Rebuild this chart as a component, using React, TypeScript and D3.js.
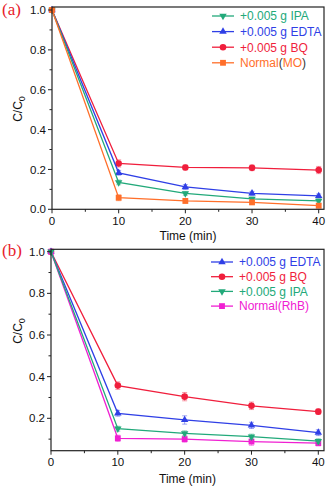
import React from "react";
import * as d3 from "d3";

const times = [0, 10, 20, 30, 40];

// Panel (a) – MO
const aIPA = [1.0, 0.135, 0.08, 0.052, 0.042];
const aEDTA = [1.0, 0.183, 0.112, 0.08, 0.067];
const aBQ = [1.0, 0.23, 0.21, 0.208, 0.197];
const aMO = [1.0, 0.058, 0.042, 0.035, 0.018];
const aIPAErr = [0, 0.012, 0.01, 0.01, 0.01];
const aEDTAErr = [0, 0.012, 0.012, 0.01, 0.01];
const aBQErr = [0, 0.018, 0.012, 0.014, 0.018];
const aMOErr = [0, 0.015, 0.012, 0.012, 0.01];

// Panel (b) – RhB
const bEDTA = [1.0, 0.224, 0.192, 0.166, 0.131];
const bBQ = [1.0, 0.357, 0.304, 0.26, 0.232];
const bIPA = [1.0, 0.15, 0.128, 0.112, 0.09];
const bRhB = [1.0, 0.104, 0.1, 0.088, 0.081];
const bEDTAErr = [0, 0.014, 0.02, 0.015, 0.014];
const bBQErr = [0, 0.018, 0.02, 0.018, 0.012];
const bIPAErr = [0, 0.012, 0.012, 0.012, 0.012];
const bRhBErr = [0, 0.015, 0.015, 0.018, 0.014];

const xMajor = [0, 10, 20, 30, 40];
const xMinor = [5, 15, 25, 35];
const aYMajor = [0, 0.2, 0.4, 0.6, 0.8, 1.0];
const bYMajor = [0.2, 0.4, 0.6, 0.8, 1.0];
const yMinor = [0.1, 0.3, 0.5, 0.7, 0.9];

const GREEN = "#22a97a";
const BLUE = "#2f3fe6";
const RED = "#f01e3c";
const ORANGE = "#ff6f2a";
const MAGENTA = "#f020d2";

type Series = {
  key: string;
  label: React.ReactNode;
  values: number[];
  err: number[];
  color: string;
  shape: "down" | "up" | "circle" | "square";
};

const seriesA: Series[] = [
  { key: "ipa", label: "+0.005 g IPA", values: aIPA, err: aIPAErr, color: GREEN, shape: "down" },
  { key: "edta", label: "+0.005 g EDTA", values: aEDTA, err: aEDTAErr, color: BLUE, shape: "up" },
  { key: "bq", label: "+0.005 g BQ", values: aBQ, err: aBQErr, color: RED, shape: "circle" },
  {
    key: "mo",
    label: (
      <>
        <tspan fill={ORANGE}>Normal</tspan>
        <tspan fill="#333">(</tspan>
        <tspan fill={ORANGE}>MO</tspan>
        <tspan fill="#333">)</tspan>
      </>
    ),
    values: aMO,
    err: aMOErr,
    color: ORANGE,
    shape: "square",
  },
];

const seriesB: Series[] = [
  { key: "edta", label: "+0.005 g EDTA", values: bEDTA, err: bEDTAErr, color: BLUE, shape: "up" },
  { key: "bq", label: "+0.005 g BQ", values: bBQ, err: bBQErr, color: RED, shape: "circle" },
  { key: "ipa", label: "+0.005 g IPA", values: bIPA, err: bIPAErr, color: GREEN, shape: "down" },
  { key: "rhb", label: "Normal(RhB)", values: bRhB, err: bRhBErr, color: MAGENTA, shape: "square" },
];

const FONT = "'Liberation Sans', Arial, sans-serif";

function Marker({ x, y, shape, color }: { x: number; y: number; shape: Series["shape"]; color: string }) {
  let path = "";
  let rot = 0;
  if (shape === "circle") path = d3.symbol().type(d3.symbolCircle).size(34)()!;
  else if (shape === "square") path = d3.symbol().type(d3.symbolSquare).size(34)()!;
  else {
    path = d3.symbol().type(d3.symbolTriangle).size(24)()!;
    if (shape === "down") rot = 180;
  }
  return <path d={path} transform={`translate(${x},${y}) rotate(${rot})`} fill={color} />;
}

type PanelProps = {
  tag: string;
  series: Series[];
  x: d3.ScaleLinear<number, number>;
  y: d3.ScaleLinear<number, number>;
  top: number;
  bottom: number;
  right: number;
  yMajor: number[];
  tickLabelY: number;
  titleY: number;
  yTitleY: number;
  tagY: number;
  legendX: number;
  legendY: number;
  legendStep: number;
  drawOrder: number[];
};

function Panel(p: PanelProps) {
  const { x, y } = p;
  const left = x(0);
  const line = d3
    .line<number>()
    .x((_, i) => x(times[i]))
    .y((v) => y(v));
  const yMinorVis = yMinor.filter((v) => y(v) <= p.bottom + 0.5 && y(v) >= p.top);
  return (
    <g>
      {/* data */}
      {p.drawOrder.map((si) => {
        const s = p.series[si];
        return (
          <g key={s.key}>
            {s.values.map((v, i) =>
              s.err[i] > 0 ? (
                <g key={i} stroke={s.color} strokeOpacity={0.45} strokeWidth={1}>
                  <line x1={x(times[i])} x2={x(times[i])} y1={y(v - s.err[i])} y2={y(v + s.err[i])} />
                  <line x1={x(times[i]) - 2.5} x2={x(times[i]) + 2.5} y1={y(v - s.err[i])} y2={y(v - s.err[i])} />
                  <line x1={x(times[i]) - 2.5} x2={x(times[i]) + 2.5} y1={y(v + s.err[i])} y2={y(v + s.err[i])} />
                </g>
              ) : null
            )}
            <path d={line(s.values)!} fill="none" stroke={s.color} strokeWidth={1.3} />
            {s.values.map((v, i) => (
              <Marker key={i} x={x(times[i])} y={y(v)} shape={s.shape} color={s.color} />
            ))}
          </g>
        );
      })}
      {/* frame */}
      <rect x={left} y={p.top} width={p.right - left} height={p.bottom - p.top} fill="none" stroke="#222" strokeWidth={1.2} />
      {/* y ticks */}
      {p.yMajor.map((v) => (
        <g key={"ym" + v}>
          <line x1={left - 4} x2={left} y1={y(v)} y2={y(v)} stroke="#222" strokeWidth={1} />
          <text x={left - 6} y={y(v)} dy="0.36em" textAnchor="end" fontSize={11.5} fontFamily={FONT} fill="#111">
            {d3.format(".1f")(v)}
          </text>
        </g>
      ))}
      {yMinorVis.map((v) => (
        <line key={"yn" + v} x1={left - 2.5} x2={left} y1={y(v)} y2={y(v)} stroke="#222" strokeWidth={1} />
      ))}
      {/* x ticks */}
      {xMajor.map((v) => (
        <g key={"xm" + v}>
          <line x1={x(v)} x2={x(v)} y1={p.bottom} y2={p.bottom + 4} stroke="#222" strokeWidth={1} />
          <text x={x(v)} y={p.tickLabelY} textAnchor="middle" fontSize={11.5} fontFamily={FONT} fill="#111">
            {v}
          </text>
        </g>
      ))}
      {xMinor.map((v) => (
        <line key={"xn" + v} x1={x(v)} x2={x(v)} y1={p.bottom} y2={p.bottom + 2.5} stroke="#222" strokeWidth={1} />
      ))}
      <text x={(left + p.right) / 2} y={p.titleY} textAnchor="middle" fontSize={12} fontFamily={FONT} fill="#111">
        Time (min)
      </text>
      <text
        transform={`translate(22,${p.yTitleY}) rotate(-90)`}
        textAnchor="middle"
        fontSize={12}
        fontFamily={FONT}
        fill="#111"
      >
        C/C
        <tspan fontSize={9} dy={3}>
          0
        </tspan>
      </text>
      <text x={2} y={p.tagY} fontSize={17} fontFamily="'Liberation Serif', 'Times New Roman', serif" fill="#e8202a">
        {p.tag}
      </text>
      {/* legend */}
      {p.series.map((s, i) => {
        const ly = p.legendY + i * p.legendStep;
        return (
          <g key={"lg" + s.key}>
            <line x1={p.legendX} x2={p.legendX + 22} y1={ly} y2={ly} stroke={s.color} strokeWidth={1.3} />
            <Marker x={p.legendX + 11} y={ly} shape={s.shape} color={s.color} />
            <text x={p.legendX + 28} y={ly} dy="0.36em" fontSize={12} fontFamily={FONT} fill={s.color}>
              {s.label}
            </text>
          </g>
        );
      })}
    </g>
  );
}

export default function App() {
  const xa = d3.scaleLinear().domain([0, 40]).range([52, 318.7]);
  const ya = d3.scaleLinear().domain([0, 1]).range([209.3, 10]);
  const xb = d3.scaleLinear().domain([0, 40]).range([51, 318.3]);
  const yb = d3.scaleLinear().domain([0.2, 1.0]).range([418.3, 251.7]);
  return (
    <svg
      width={328}
      height={488}
      viewBox="0 0 328 488"
      style={{ position: "absolute", left: 0, top: 0, background: "#fff" }}
    >
      <rect width={328} height={488} fill="#fff" />
      <Panel
        tag="(a)"
        series={seriesA}
        x={xa}
        y={ya}
        top={7}
        bottom={209.3}
        right={324}
        yMajor={aYMajor}
        tickLabelY={225}
        titleY={239.5}
        yTitleY={109}
        tagY={15}
        legendX={212}
        legendY={16}
        legendStep={15.6}
        drawOrder={[2, 1, 0, 3]}
      />
      <Panel
        tag="(b)"
        series={seriesB}
        x={xb}
        y={yb}
        top={249.3}
        bottom={450.7}
        right={324}
        yMajor={bYMajor}
        tickLabelY={466}
        titleY={483}
        yTitleY={331}
        tagY={256}
        legendX={211}
        legendY={262}
        legendStep={14.7}
        drawOrder={[1, 0, 3, 2]}
      />
    </svg>
  );
}
